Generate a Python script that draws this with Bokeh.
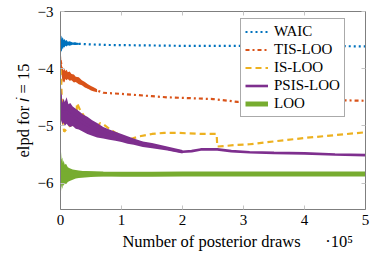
from bokeh.plotting import figure
from bokeh.models import (Range1d, LinearAxis, FixedTicker, Legend, LegendItem,
                          CustomJSTickFormatter)
from bokeh.embed import file_html
from bokeh.resources import INLINE

# ---------------- data (x in units of 10^5 posterior draws) ----------------
x_ticks = [0, 1, 2, 3, 4, 5]
y_ticks = [-6, -5, -4, -3]

waic_x = [0, 0.01, 0.02, 0.03, 0.05, 0.08, 0.12, 0.2, 0.3, 0.5, 0.8, 1.2, 1.6, 2.0, 2.5, 3.0, 3.5, 4.0, 4.5, 5.0]
waic_y = [-3.64, -3.6, -3.53, -3.56, -3.55, -3.56, -3.55, -3.56, -3.565, -3.575, -3.585, -3.59, -3.595,
          -3.6, -3.6, -3.6, -3.605, -3.605, -3.605, -3.61]
waic_nx = [0, 0.008, 0.015, 0.022, 0.03, 0.04, 0.05, 0.065, 0.08, 0.1, 0.12, 0.15, 0.2, 0.25, 0.3]
waic_hi = [-3.56, -3.5, -3.44, -3.42, -3.47, -3.45, -3.5, -3.48, -3.51, -3.5, -3.53, -3.52, -3.54, -3.54, -3.55]
waic_lo = [-3.76, -3.72, -3.68, -3.7, -3.64, -3.66, -3.62, -3.63, -3.6, -3.61, -3.59, -3.6, -3.58, -3.585, -3.58]

tis_x = [0, 0.01, 0.02, 0.04, 0.06, 0.1, 0.15, 0.2, 0.3, 0.36, 0.46, 0.6, 0.7, 0.85, 1.0, 1.25, 1.5,
         1.75, 2.0, 2.25, 2.5, 2.75, 2.9, 3.1, 3.5, 4.0, 4.5, 5.0]
tis_y = [-3.85, -3.9, -4.0, -4.1, -4.12, -4.1, -4.13, -4.15, -4.2, -4.25, -4.33, -4.38, -4.42, -4.43,
         -4.44, -4.46, -4.48, -4.5, -4.51, -4.52, -4.53, -4.56, -4.58, -4.56, -4.55, -4.56, -4.55, -4.56]
tis_nx = [0, 0.005, 0.01, 0.015, 0.02, 0.03, 0.04, 0.05, 0.065, 0.08, 0.1, 0.12, 0.15, 0.18, 0.22,
          0.25, 0.3, 0.35, 0.4, 0.45, 0.5, 0.55, 0.6]
tis_hi = [-3.72, -3.8, -3.78, -3.9, -3.92, -3.98, -4.0, -4.03, -4.0, -4.04, -4.02, -4.06, -4.05, -4.09,
          -4.1, -4.14, -4.15, -4.2, -4.23, -4.27, -4.3, -4.33, -4.36]
tis_lo = [-3.95, -3.98, -4.02, -4.08, -4.12, -4.2, -4.25, -4.22, -4.24, -4.18, -4.2, -4.18, -4.21, -4.2,
          -4.24, -4.23, -4.27, -4.29, -4.33, -4.35, -4.38, -4.4, -4.41]

is_x = [0, 0.01, 0.02, 0.04, 0.06, 0.1, 0.15, 0.2, 0.26, 0.27, 0.32, 0.4, 0.5, 0.6, 0.65, 0.7, 0.8,
        0.9, 1.0, 1.1, 1.15, 1.3, 1.5, 1.7, 1.9, 2.1, 2.3, 2.56, 2.57, 2.7, 2.9, 3.1, 3.5, 4.0, 4.5, 5.0]
is_y = [-4.0, -4.15, -4.5, -4.95, -5.1, -5.05, -5.0, -4.97, -4.95, -4.6, -4.72, -4.85, -4.95, -5.02,
        -4.95, -4.97, -5.05, -5.12, -5.17, -5.22, -5.23, -5.18, -5.14, -5.12, -5.12, -5.13, -5.14,
        -5.14, -5.36, -5.35, -5.33, -5.32, -5.27, -5.21, -5.16, -5.11]

psis_x = [0, 0.01, 0.02, 0.05, 0.1, 0.2, 0.3, 0.44, 0.6, 0.8, 1.0, 1.15, 1.3, 1.5, 1.69, 1.85, 2.0,
          2.15, 2.3, 2.57, 2.8, 3.1, 3.5, 4.0, 4.5, 5.0]
psis_y = [-4.45, -4.7, -4.72, -4.75, -4.75, -4.83, -4.9, -4.99, -5.07, -5.15, -5.21, -5.25, -5.29,
          -5.34, -5.38, -5.42, -5.45, -5.44, -5.41, -5.41, -5.44, -5.46, -5.47, -5.48, -5.5, -5.51]
psis_nx = [0, 0.01, 0.02, 0.03, 0.05, 0.07, 0.1, 0.13, 0.16, 0.2, 0.25, 0.3, 0.37, 0.44, 0.52, 0.6,
           0.7, 0.8, 0.9, 1.0, 1.1, 1.2, 1.35, 1.5, 1.75, 2.0]
psis_hi = [-4.1, -4.35, -4.5, -4.6, -4.52, -4.58, -4.5, -4.62, -4.6, -4.66, -4.7, -4.74, -4.8, -4.84,
           -4.9, -4.95, -5.02, -5.06, -5.1, -5.14, -5.18, -5.22, -5.27, -5.3, -5.36, -5.42]
psis_lo = [-4.85, -4.95, -4.9, -4.98, -4.94, -5.0, -4.96, -5.0, -5.02, -5.0, -5.05, -5.06, -5.1, -5.14,
           -5.17, -5.2, -5.22, -5.24, -5.26, -5.28, -5.31, -5.33, -5.37, -5.39, -5.43, -5.48]

loo_x = [0, 0.05, 0.1, 0.2, 0.4, 0.7, 1.0, 1.5, 2.0, 2.5, 3.0, 3.5, 4.0, 4.5, 5.0]
loo_y = [-5.85, -5.84, -5.84, -5.84, -5.83, -5.84, -5.845, -5.845, -5.84, -5.84, -5.84, -5.84, -5.84, -5.84, -5.84]
loo_nx = [0, 0.005, 0.01, 0.015, 0.02, 0.03, 0.04, 0.05, 0.07, 0.09, 0.12, 0.15, 0.2, 0.25, 0.3, 0.4,
          0.5, 0.7, 1.0]
loo_hi = [-5.6, -5.5, -5.62, -5.45, -5.58, -5.55, -5.65, -5.6, -5.68, -5.66, -5.72, -5.74, -5.76, -5.77,
          -5.78, -5.79, -5.8, -5.81, -5.82]
loo_lo = [-6.05, -6.12, -6.0, -6.14, -6.05, -6.1, -6.02, -6.05, -6.0, -6.02, -5.98, -5.96, -5.94, -5.92,
          -5.91, -5.9, -5.89, -5.88, -5.87]

labels = ["WAIC", "TIS-LOO", "IS-LOO", "PSIS-LOO", "LOO"]
colors = ["#0072BD", "#D95319", "#EDB120", "#7E2F8E", "#77AC30"]

FONT = "Liberation Serif"
AX = "#7f7f7f"
TICK = "#c4c4c4"
NB = "\u00a0"

p = figure(width=374, height=255, output_backend="svg", toolbar_location=None,
           x_range=Range1d(0, 5), y_range=Range1d(-6.46, -3),
           min_border_left=60, min_border_right=9, min_border_top=11, min_border_bottom=46)
p.grid.visible = False
p.outline_line_color = AX
p.background_fill_color = "white"
p.border_fill_color = "white"

minus_fmt = CustomJSTickFormatter(code="return (tick < 0 ? '\u2212' : '') + Math.abs(tick).toFixed(0);")
blank_fmt = CustomJSTickFormatter(code="return '';")

def style_axis(ax):
    ax.axis_line_color = AX
    ax.major_tick_in = 4
    ax.major_tick_out = 0
    ax.minor_tick_in = 0
    ax.minor_tick_out = 0
    ax.major_tick_line_color = TICK
    ax.major_label_text_font = FONT
    ax.major_label_text_font_size = "15px"
    ax.major_label_text_color = "black"
    ax.axis_label_text_font = FONT
    ax.axis_label_text_font_style = "normal"
    ax.axis_label_text_font_size = "16.5px"
    ax.axis_label_text_color = "black"

xa = p.xaxis[0]
ya = p.yaxis[0]
style_axis(xa)
style_axis(ya)
xa.ticker = FixedTicker(ticks=x_ticks)
ya.ticker = FixedTicker(ticks=y_ticks)
xa.formatter = minus_fmt
ya.formatter = minus_fmt
xa.major_label_standoff = 5
ya.major_label_standoff = 7
# the axis label carries the "·10⁵" multiplier at its right end
xa.axis_label = NB * 12 + "Number of posterior draws" + NB * 6 + "\u00b710\u2075"
xa.axis_label_standoff = 4
ya.axis_label = "elpd for \U0001D456 = 15"
ya.axis_label_standoff = 2

top = LinearAxis(ticker=FixedTicker(ticks=x_ticks), formatter=blank_fmt)
right = LinearAxis(ticker=FixedTicker(ticks=y_ticks), formatter=blank_fmt)
for ax in (top, right):
    style_axis(ax)
    ax.major_label_standoff = 0
p.add_layout(top, "above")
p.add_layout(right, "right")

# noise bands + lines
p.varea(x=waic_nx, y1=waic_lo, y2=waic_hi, fill_color=colors[0])
p.varea(x=tis_nx, y1=tis_lo, y2=tis_hi, fill_color=colors[1])
r_waic = p.line(waic_x, waic_y, line_color=colors[0], line_width=2.2, line_dash="2 3")
r_tis = p.line(tis_x, tis_y, line_color=colors[1], line_width=2.2, line_dash="4 3 2 3")
r_is = p.line(is_x, is_y, line_color=colors[2], line_width=2.2, line_dash="6 4")
p.varea(x=psis_nx, y1=psis_lo, y2=psis_hi, fill_color=colors[3])
r_psis = p.line(psis_x, psis_y, line_color=colors[3], line_width=2.6)
p.varea(x=loo_nx, y1=loo_lo, y2=loo_hi, fill_color=colors[4])
r_loo = p.line(loo_x, loo_y, line_color=colors[4], line_width=5)

legend = Legend(items=[LegendItem(label=l, renderers=[r]) for l, r in
                       zip(labels, [r_waic, r_tis, r_is, r_psis, r_loo])],
                location=(180, 92))
legend.label_text_font = FONT
legend.label_text_font_size = "15px"
legend.label_text_color = "black"
legend.border_line_color = "#555555"
legend.border_line_width = 1
legend.background_fill_alpha = 1
legend.glyph_width = 23
legend.glyph_height = 15
legend.label_height = 15
legend.label_standoff = 6
legend.spacing = 1
legend.padding = 4
legend.margin = 0
p.add_layout(legend, "center")

open("out.html", "w").write(file_html(p, INLINE))
